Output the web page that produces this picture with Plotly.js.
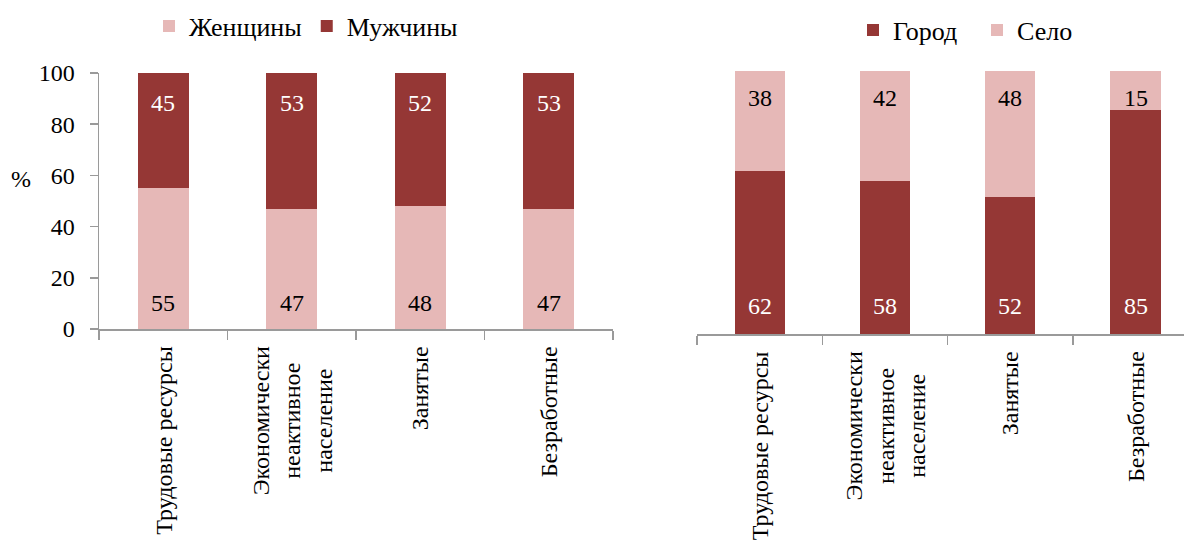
<!DOCTYPE html>
<html>
<head>
<meta charset="utf-8">
<script src="https://cdn.plot.ly/plotly-3.0.1.min.js"></script>
<style>
html,body{margin:0;padding:0;background:#fff;overflow:hidden;}
#chart{width:1184px;height:545px;}
</style>
</head>
<body>
<div id="chart"></div>
<script>
// ---- data ----
const categories = ["Трудовые ресурсы", "Экономически<br>неактивное<br>население", "Занятые", "Безработные"];
const catKeys = ["c0", "c1", "c2", "c3"];
const women = [55, 47, 48, 47];
const men = [45, 53, 52, 53];
const city = [62, 58, 52, 85];
const village = [38, 42, 48, 15];
const yTicks = [0, 20, 40, 60, 80, 100];

const DARK = "#953735";
const PINK = "#E6B8B7";
const FONT = "Liberation Serif";
const AXC = "#9a9a9a";

const traces = [
  {type: "bar", name: "Женщины", x: catKeys, y: women, marker: {color: PINK}, xaxis: "x", yaxis: "y", legend: "legend", hoverinfo: "none"},
  {type: "bar", name: "Мужчины", x: catKeys, y: men, marker: {color: DARK}, xaxis: "x", yaxis: "y", legend: "legend", hoverinfo: "none"},
  {type: "bar", name: "Город", x: catKeys, y: city, marker: {color: DARK}, xaxis: "x2", yaxis: "y2", legend: "legend2", hoverinfo: "none"},
  {type: "bar", name: "Село", x: catKeys, y: village, marker: {color: PINK}, xaxis: "x2", yaxis: "y2", legend: "legend2", hoverinfo: "none"}
];

const annotations = [];
function addVals(vals, xa, ya, base, shift, color) {
  vals.forEach((v, i) => {
    annotations.push({x: catKeys[i], y: base, xref: xa, yref: ya, text: String(v), showarrow: false,
      yshift: shift, yanchor: "middle", font: {family: FONT, size: 24, color: color}});
  });
}
addVals(women, "x", "y", 0, 26, "#000");
addVals(men, "x", "y", 100, -30, "#fff");
addVals(city, "x2", "y2", 0, 28, "#fff");
addVals(village, "x2", "y2", 100, -28, "#000");
[["x", "y"], ["x2", "y2"]].forEach(([xa, ya]) => {
  categories.forEach((c, i) => {
    annotations.push({x: catKeys[i], y: 0, xref: xa, yref: ya, text: c, showarrow: false, textangle: -90,
      align: "center", xanchor: "center", yanchor: "top", yshift: -15, font: {family: FONT, size: 24, color: "#000"}});
  });
});
annotations.push({x: 21 / 1184, y: (545 - 179) / 545, xref: "paper", yref: "paper", text: "%", showarrow: false,
  xanchor: "center", yanchor: "middle", font: {family: FONT, size: 24, color: "#000"}});

const layout = {
  width: 1184, height: 545,
  margin: {l: 0, r: 0, t: 0, b: 0},
  paper_bgcolor: "#fff", plot_bgcolor: "rgba(0,0,0,0)",
  barmode: "stack", bargap: 0.6,
  font: {family: FONT, size: 24, color: "#000"},
  xaxis: {domain: [99 / 1184, 613 / 1184], range: [-0.5, 3.5], type: "category", categoryarray: catKeys,
    showticklabels: false, showline: true, linecolor: AXC, linewidth: 1.5, ticks: "outside", tickson: "boundaries",
    ticklen: 9, tickcolor: AXC, tickwidth: 1.5, showgrid: false, zeroline: false, fixedrange: true},
  yaxis: {domain: [(545 - 329) / 545, (545 - 73) / 545], range: [0, 100], tickvals: yTicks,
    showline: true, linecolor: AXC, linewidth: 1.5, ticks: "outside", ticklen: 8, tickcolor: AXC, tickwidth: 1.5,
    showgrid: false, zeroline: false, ticklabelstandoff: 10, tickfont: {family: FONT, size: 24, color: "#000"}, fixedrange: true},
  xaxis2: {domain: [697 / 1184, 1], range: [-0.5, 3.387], type: "category", categoryarray: catKeys, anchor: "y2",
    showticklabels: false, showline: true, linecolor: AXC, linewidth: 1.5, ticks: "outside", tickson: "boundaries",
    ticklen: 9, tickcolor: AXC, tickwidth: 1.5, showgrid: false, zeroline: false, fixedrange: true},
  yaxis2: {domain: [(545 - 334) / 545, (545 - 70.5) / 545], range: [0, 100], anchor: "x2", visible: false, fixedrange: true},
  legend: {orientation: "h", x: 149 / 1184, xanchor: "left", y: (545 - 26) / 545, yanchor: "middle",
    font: {family: FONT, size: 26, color: "#000"}, traceorder: "normal", bgcolor: "rgba(0,0,0,0)"},
  legend2: {orientation: "h", x: 853 / 1184, xanchor: "left", y: (545 - 30) / 545, yanchor: "middle", entrywidth: 79,
    font: {family: FONT, size: 26, color: "#000"}, traceorder: "normal", bgcolor: "rgba(0,0,0,0)"},
  annotations: annotations
};

Plotly.newPlot("chart", traces, layout, {staticPlot: true, displayModeBar: false});
</script>
</body>
</html>
